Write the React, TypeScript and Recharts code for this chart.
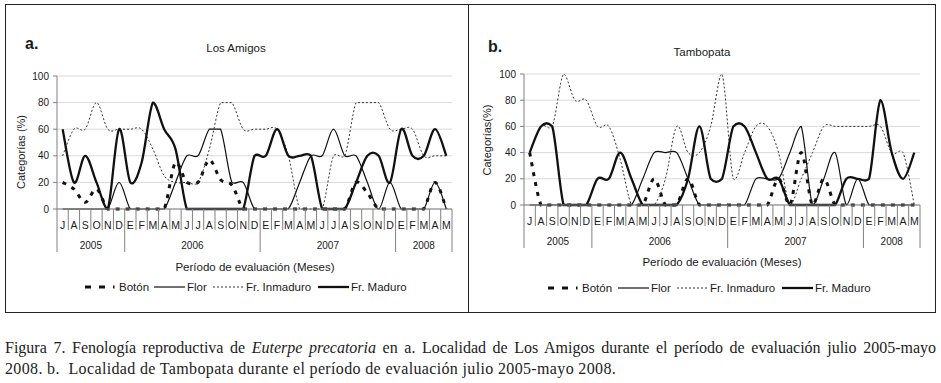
import React from "react";
import { CartesianGrid, Line, LineChart, XAxis, YAxis } from "recharts";

// meses jul 2005 - may 2008
const MONTHS = ["J", "A", "S", "O", "N", "D", "E", "F", "M", "A", "M", "J", "J", "A", "S", "O", "N", "D", "E", "F", "M", "A", "M", "J", "J", "A", "S", "O", "N", "D", "E", "F", "M", "A", "M"];
const YEARS = [
  { label: "2005", from: 0, to: 5 },
  { label: "2006", from: 6, to: 17 },
  { label: "2007", from: 18, to: 29 },
  { label: "2008", from: 30, to: 34 },
];
const Y_TICKS = [0, 20, 40, 60, 80, 100];

// Los Amigos
const LA_BOTON = [20, 15, 5, 15, 0, 0, 0, 0, 0, 0, 35, 20, 20, 37, 22, 18, 0, 0, 0, 0, 0, 0, 0, 0, 0, 0, 20, 12, 0, 0, 0, 0, 0, 20, 0];
const LA_FLOR = [0, 0, 0, 0, 0, 20, 0, 0, 0, 0, 20, 40, 40, 60, 60, 20, 20, 0, 0, 0, 0, 20, 40, 40, 60, 40, 40, 20, 0, 20, 0, 0, 0, 20, 0];
const LA_INM = [40, 60, 60, 80, 60, 60, 60, 60, 45, 25, 20, 20, 20, 45, 80, 80, 60, 60, 60, 60, 40, 0, 0, 0, 40, 40, 80, 80, 80, 60, 60, 60, 40, 40, 40];
const LA_MAD = [60, 20, 40, 20, 0, 60, 20, 35, 80, 60, 45, 0, 0, 0, 0, 0, 0, 40, 40, 60, 40, 40, 40, 0, 0, 0, 20, 40, 40, 20, 60, 40, 40, 60, 40];

// Tambopata
const TB_BOTON = [40, 0, 0, 0, 0, 0, 0, 0, 0, 0, 0, 20, 0, 0, 20, 0, 0, 0, 0, 0, 0, 0, 20, 0, 40, 0, 20, 0, 0, 0, 0, 0, 0, 0, 0];
const TB_FLOR = [0, 0, 0, 0, 0, 0, 0, 0, 0, 0, 20, 40, 40, 40, 20, 0, 0, 0, 0, 0, 20, 20, 20, 40, 60, 0, 20, 40, 0, 20, 0, 0, 0, 0, 0];
const TB_INM = [40, 60, 60, 100, 80, 80, 60, 60, 35, 0, 0, 0, 20, 60, 40, 40, 60, 100, 20, 40, 60, 60, 40, 0, 20, 40, 60, 60, 60, 60, 60, 60, 40, 40, 0];
const TB_MAD = [40, 60, 60, 0, 0, 0, 20, 20, 40, 20, 0, 0, 0, 0, 20, 60, 20, 20, 60, 60, 40, 20, 20, 0, 0, 0, 0, 0, 20, 20, 20, 80, 40, 20, 40];

const SERIES = [
  { key: "boton", name: "Botón", width: 3, dash: "4 6" },
  { key: "flor", name: "Flor", width: 1.2, dash: undefined },
  { key: "inm", name: "Fr. Inmaduro", width: 1, dash: "2 2" },
  { key: "mad", name: "Fr. Maduro", width: 2.3, dash: undefined },
];

const FONT = "'Liberation Sans', Arial, sans-serif";
const INK = "#1a1a1a";
const AXIS = "#808080";

// suavizado tipo Excel (catmull-rom) con poco desborde
function excelCurve(context: any) {
  let xs: number[] = [];
  let ys: number[] = [];
  return {
    areaStart() {},
    areaEnd() {},
    lineStart() {
      xs = [];
      ys = [];
    },
    lineEnd() {
      const n = xs.length;
      if (!n) return;
      const lo = Math.min(...ys);
      const hi = Math.max(...ys);
      const m = (hi - lo) * 0.04;
      context.moveTo(xs[0], ys[0]);
      for (let k = 0; k < n - 1; k++) {
        const a = Math.max(k - 1, 0);
        const d = Math.min(k + 2, n - 1);
        const sLo = Math.max(lo, Math.min(ys[k], ys[k + 1]) - m);
        const sHi = Math.min(hi, Math.max(ys[k], ys[k + 1]) + m);
        const c = (v: number) => Math.min(sHi, Math.max(sLo, v));
        context.bezierCurveTo(
          xs[k] + (xs[k + 1] - xs[a]) / 6,
          c(ys[k] + (ys[k + 1] - ys[a]) / 6),
          xs[k + 1] - (xs[d] - xs[k]) / 6,
          c(ys[k + 1] - (ys[d] - ys[k]) / 6),
          xs[k + 1],
          ys[k + 1]
        );
      }
    },
    point(x: number, y: number) {
      xs.push(+x);
      ys.push(+y);
    },
  };
}

type Geo = {
  left: number;
  width: number;
  plotLeft: number;
  plotRight: number;
  plotTop: number;
  plotBottom: number;
  letterX: number;
  letterY: number;
  titleX: number;
  titleY: number;
  xTitleX: number;
  xTitleY: number;
  yTitleX: number;
  yTitleY: number;
  legendY: number;
  legendX: number[];
  yTitle: string;
};

const GEO_A: Geo = {
  left: 0, width: 470, plotLeft: 57, plotRight: 452, plotTop: 76, plotBottom: 209,
  letterX: 25, letterY: 43, titleX: 236, titleY: 48, xTitleX: 255, xTitleY: 267,
  yTitleX: 21, yTitleY: 152, legendY: 287, legendX: [85, 154, 213, 318], yTitle: "Categorías (%)",
};
const GEO_B: Geo = {
  left: 470, width: 471, plotLeft: 54, plotRight: 450, plotTop: 74, plotBottom: 205,
  letterX: 18, letterY: 46, titleX: 232, titleY: 52, xTitleX: 252, xTitleY: 262,
  yTitleX: 17, yTitleY: 140, legendY: 288, legendX: [78, 148, 207, 312], yTitle: "Categorías(%)",
};

function makeTick(g: Geo) {
  const colW = (g.plotRight - g.plotLeft) / MONTHS.length;
  const y0 = g.plotBottom;
  return (props: any) => {
    const { x, payload } = props;
    const i = Number(payload.value);
    const yr = YEARS.find((v) => v.from === i);
    const last = i === MONTHS.length - 1;
    return (
      <g>
        <line x1={x - colW / 2} x2={x - colW / 2} y1={y0} y2={y0 + (yr ? 43 : 21)} stroke={AXIS} />
        {last && <line x1={x + colW / 2} x2={x + colW / 2} y1={y0} y2={y0 + 43} stroke={AXIS} />}
        <text x={x} y={y0 + 15.5} textAnchor="middle" dominantBaseline="central" fontSize={10.5} fill={INK} fontFamily={FONT}>
          {MONTHS[i]}
        </text>
        {yr && (
          <text x={x + ((yr.to - yr.from) / 2) * colW} y={y0 + 36.5} textAnchor="middle" dominantBaseline="central" fontSize={10} fill={INK} fontFamily={FONT}>
            {yr.label}
          </text>
        )}
      </g>
    );
  };
}

function Panel({ g, letter, title, boton, flor, inm, mad }: { g: Geo; letter: string; title: string; boton: number[]; flor: number[]; inm: number[]; mad: number[] }) {
  const rows = MONTHS.map((m, i) => ({ i, month: m, boton: boton[i], flor: flor[i], inm: inm[i], mad: mad[i] }));
  const xAxisH = 45;
  const H = 310;
  return (
    <div style={{ position: "absolute", left: g.left, top: 0, width: g.width, height: H }}>
      <LineChart
        width={g.width}
        height={H}
        data={rows}
        margin={{ top: g.plotTop, right: g.width - g.plotRight, bottom: H - g.plotBottom - xAxisH, left: 0 }}
      >
        <CartesianGrid vertical={false} stroke="#d9d9d9" />
        <XAxis
          type="number"
          dataKey="i"
          domain={[-0.5, MONTHS.length - 0.5]}
          allowDataOverflow
          ticks={MONTHS.map((_, i) => i)}
          interval={0}
          tickLine={false}
          axisLine={{ stroke: AXIS }}
          tick={makeTick(g)}
          height={xAxisH}
        />
        <YAxis
          type="number"
          domain={[0, 100]}
          ticks={Y_TICKS}
          width={g.plotLeft}
          tickSize={4}
          tickMargin={4}
          axisLine={{ stroke: AXIS }}
          tickLine={{ stroke: AXIS }}
          tick={{ fontSize: 10, fill: INK, fontFamily: FONT }}
        />
        {SERIES.map((s) => (
          <Line
            key={s.key}
            dataKey={s.key}
            name={s.name}
            type={excelCurve as any}
            stroke={s.key === "inm" ? "#333" : "#111"}
            strokeWidth={s.width}
            strokeDasharray={s.dash}
            dot={false}
            activeDot={false}
            isAnimationActive={false}
          />
        ))}
      </LineChart>
      <svg width={g.width} height={H} style={{ position: "absolute", left: 0, top: 0, pointerEvents: "none" }} fontFamily={FONT}>
        <text x={g.letterX} y={g.letterY} dominantBaseline="central" fontSize={16} fontWeight="bold" fill={INK}>
          {letter}
        </text>
        <text x={g.titleX} y={g.titleY} textAnchor="middle" dominantBaseline="central" fontSize={11.5} fill={INK}>
          {title}
        </text>
        <text x={g.xTitleX} y={g.xTitleY} textAnchor="middle" dominantBaseline="central" fontSize={11.5} fill={INK}>
          Período de evaluación (Meses)
        </text>
        <text
          x={g.yTitleX}
          y={g.yTitleY}
          textAnchor="middle"
          dominantBaseline="central"
          fontSize={11}
          fill={INK}
          transform={`rotate(-90 ${g.yTitleX} ${g.yTitleY})`}
        >
          {g.yTitle}
        </text>
        {SERIES.map((s, k) => {
          const lx = g.legendX[k];
          return (
            <g key={s.key}>
              <line
                x1={lx}
                x2={lx + (s.key === "boton" ? 29.5 : 31)}
                y1={g.legendY}
                y2={g.legendY}
                stroke={s.key === "inm" ? "#333" : "#111"}
                strokeWidth={s.width}
                strokeDasharray={s.key === "boton" ? "6 8" : s.dash}
              />
              <text x={lx + (s.key === "boton" ? 34 : 33)} y={g.legendY} dominantBaseline="central" fontSize={11.5} fill={INK}>
                {s.name}
              </text>
            </g>
          );
        })}
      </svg>
    </div>
  );
}

export default function App() {
  const serif = "'Liberation Serif', 'Times New Roman', serif";
  return (
    <div style={{ position: "absolute", left: 0, top: 0, width: 941, height: 383, background: "#fff", overflow: "hidden" }}>
      <div style={{ position: "absolute", left: 5, top: 4, width: 929, height: 307, border: "1px solid #222" }} />
      <div style={{ position: "absolute", left: 468, top: 4, width: 1, height: 308, background: "#222" }} />
      <Panel g={GEO_A} letter="a." title="Los Amigos" boton={LA_BOTON} flor={LA_FLOR} inm={LA_INM} mad={LA_MAD} />
      <Panel g={GEO_B} letter="b." title="Tambopata" boton={TB_BOTON} flor={TB_FLOR} inm={TB_INM} mad={TB_MAD} />
      <div style={{ position: "absolute", left: 5, top: 337, width: 931, fontFamily: serif, fontSize: 16, color: "#222", lineHeight: "21px" }}>
        <div style={{ textAlign: "justify", textAlignLast: "justify", whiteSpace: "nowrap" as any }}>
          Figura 7. Fenología reproductiva de <i>Euterpe precatoria</i> en a. Localidad de Los Amigos durante el período de evaluación julio 2005-mayo
        </div>
        <div style={{ letterSpacing: 0.35 }}>2008. b.&nbsp; Localidad de Tambopata durante el período de evaluación julio 2005-mayo 2008.</div>
      </div>
    </div>
  );
}
